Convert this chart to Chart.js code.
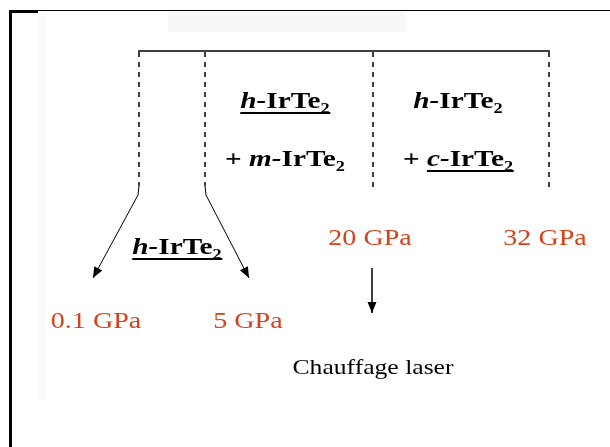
<!DOCTYPE html>
<html>
<head>
<meta charset="utf-8">
<script src="https://cdn.jsdelivr.net/npm/chart.js@4"></script>
<style>
  body { margin: 0; background: #fff; }
  canvas { display: block; }
</style>
</head>
<body>
<canvas id="phaseChart" width="610" height="447"></canvas>
<script>
// Pressure steps (red labels) and where they sit on the diagram
const pressureLabels = ['0.1 GPa', '5 GPa', '20 GPa', '32 GPa'];
const pressureX = [96, 248, 370, 545];
const pressureY = [328, 328, 245, 245];

// Dashed phase boundaries
const boundaryX = [139, 205, 373, 549];
const boundaryBottom = [186, 186, 192, 192];
const boundaryTop = 51;

// Phase labels: [centre x, baseline y, parts]
const phaseLabels = [
  [285, 108, [{ t: 'h-', i: true, u: true }, { t: 'IrTe', u: true }, { t: '2', sub: true, u: true }]],
  [285, 166, [{ t: '+ ' }, { t: 'm-', i: true }, { t: 'IrTe' }, { t: '2', sub: true }]],
  [458, 108, [{ t: 'h-', i: true }, { t: 'IrTe' }, { t: '2', sub: true }]],
  [458, 166, [{ t: '+ ' }, { t: 'c-', i: true, u: true }, { t: 'IrTe', u: true }, { t: '2', sub: true, u: true }]],
  [177, 254, [{ t: 'h-', i: true, u: true }, { t: 'IrTe', u: true }, { t: '2', sub: true, u: true }]]
];

const heatingLabel = 'Chauffage laser';

// Function to draw a label made of several styled parts
function drawRich(ctx, cx, base, parts, size, bold, color) {
  const sx = 1.22;
  const fontFor = p => (p.i ? 'italic ' : '') + (bold ? 'bold ' : '') +
    Math.round(p.sub ? size * 0.62 : size) + 'px "Liberation Serif", "Times New Roman", serif';
  let total = 0;
  const widths = parts.map(p => {
    ctx.font = fontFor(p);
    const w = ctx.measureText(p.t).width;
    total += w;
    return w;
  });
  ctx.save();
  ctx.translate(cx, base);
  ctx.scale(sx, 1);
  ctx.fillStyle = color;
  let x = -total / 2;
  parts.forEach((p, k) => {
    ctx.font = fontFor(p);
    ctx.fillText(p.t, x, p.sub ? size * 0.2 : 0);
    if (p.u) ctx.fillRect(x, 4, widths[k] + 0.5, 2);
    x += widths[k];
  });
  ctx.restore();
}

const datasets = [];
// Top solid line
datasets.push({
  data: [{ x: boundaryX[0] - 1, y: boundaryTop }, { x: boundaryX[3] + 1, y: boundaryTop }],
  borderColor: '#000', borderWidth: 1.5
});
// Dashed boundaries
boundaryX.forEach((bx, i) => {
  datasets.push({
    data: [{ x: bx, y: boundaryTop + 1 }, { x: bx, y: boundaryBottom[i] }],
    borderColor: '#000', borderWidth: 1.5, borderDash: [5, 5]
  });
});
// Arrows to 0.1 GPa and 5 GPa, and the laser heating arrow
datasets.push({
  data: [{ x: 139, y: 186 }, { x: 138, y: 195 }, { x: 93, y: 278 }],
  borderColor: '#000', borderWidth: 1, arrow: true
});
datasets.push({
  data: [{ x: 205, y: 186 }, { x: 206, y: 195 }, { x: 249, y: 278 }],
  borderColor: '#000', borderWidth: 1, arrow: true
});
datasets.push({
  data: [{ x: 372, y: 268 }, { x: 372, y: 313 }],
  borderColor: '#000', borderWidth: 1.5, arrow: true
});

const decorPlugin = {
  id: 'decor',
  beforeDraw(chart) {
    const ctx = chart.ctx;
    ctx.save();
    ctx.fillStyle = '#fff';
    ctx.fillRect(0, 0, chart.width, chart.height);
    ctx.fillStyle = '#f8f8f8';
    ctx.fillRect(168, 12, 238, 20);
    ctx.fillStyle = '#fbfbfb';
    ctx.fillRect(38, 12, 8, 388);
    ctx.fillStyle = '#000';
    ctx.fillRect(9, 10, 3, chart.height - 10);
    ctx.fillRect(9, 10, 29, 3);
    ctx.fillRect(9, 10, 601, 1);
    ctx.restore();
  },
  afterDatasetsDraw(chart) {
    const ctx = chart.ctx;
    const xs = chart.scales.x, ys = chart.scales.y;
    ctx.save();
    // arrow heads
    chart.data.datasets.forEach(ds => {
      if (!ds.arrow) return;
      const n = ds.data.length;
      const x1 = xs.getPixelForValue(ds.data[n - 2].x), y1 = ys.getPixelForValue(ds.data[n - 2].y);
      const x2 = xs.getPixelForValue(ds.data[n - 1].x), y2 = ys.getPixelForValue(ds.data[n - 1].y);
      const a = Math.atan2(y2 - y1, x2 - x1);
      ctx.fillStyle = '#000';
      ctx.beginPath();
      ctx.moveTo(x2, y2);
      ctx.lineTo(x2 - 11 * Math.cos(a) + 4.5 * Math.sin(a), y2 - 11 * Math.sin(a) - 4.5 * Math.cos(a));
      ctx.lineTo(x2 - 11 * Math.cos(a) - 4.5 * Math.sin(a), y2 - 11 * Math.sin(a) + 4.5 * Math.cos(a));
      ctx.closePath();
      ctx.fill();
    });
    // phase labels
    phaseLabels.forEach(([px, py, parts]) => {
      drawRich(ctx, xs.getPixelForValue(px), ys.getPixelForValue(py), parts, 24, true, '#000');
    });
    // pressure labels
    pressureLabels.forEach((label, i) => {
      drawRich(ctx, xs.getPixelForValue(pressureX[i]), ys.getPixelForValue(pressureY[i]),
        [{ t: label }], 23, false, '#d2431c');
    });
    drawRich(ctx, xs.getPixelForValue(373), ys.getPixelForValue(374), [{ t: heatingLabel }], 21, false, '#000');
    ctx.restore();
  }
};

new Chart(document.getElementById('phaseChart'), {
  type: 'scatter',
  data: { datasets: datasets.map(d => Object.assign({ showLine: true, pointRadius: 0, fill: false }, d)) },
  options: {
    responsive: false,
    animation: false,
    layout: { padding: 0 },
    scales: {
      x: { type: 'linear', min: 0, max: 610, display: false },
      y: { type: 'linear', min: 0, max: 447, reverse: true, display: false }
    },
    plugins: { legend: { display: false }, tooltip: { enabled: false } }
  },
  plugins: [decorPlugin]
});
</script>
</body>
</html>
